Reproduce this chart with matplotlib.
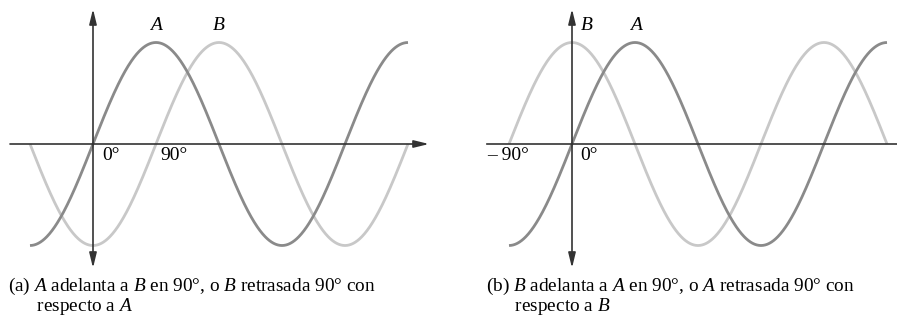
import numpy as np
import matplotlib
matplotlib.use('Agg')
import matplotlib.pyplot as plt

# phase angle samples (degrees) and the two waveforms of each panel
theta = np.linspace(-90, 450, 721)
wave_a_A = np.sin(np.radians(theta))
wave_a_B = np.sin(np.radians(theta - 90))   # B lags A by 90
wave_b_A = np.sin(np.radians(theta))
wave_b_B = np.sin(np.radians(theta + 90))   # B leads A by 90

color_A = '#8a8a8a'
color_B = '#c8c8c8'
axis_color = '#333333'

plt.rcParams['font.family'] = ['Liberation Serif', 'DejaVu Serif']
plt.rcParams['mathtext.fontset'] = 'custom'
plt.rcParams['mathtext.rm'] = 'Liberation Serif'
plt.rcParams['mathtext.it'] = 'Liberation Serif:italic'

W, H = 897, 320
fig = plt.figure(figsize=(W / 100, H / 100), dpi=100)

PX_PER_DEG = 0.7
PX_PER_UNIT = 101.5
AXIS_Y = 144


def make_axes(left, right, origin_x):
    ax = fig.add_axes([left / W, 0, (right - left) / W, 1])
    ax.set_xlim((left - origin_x) / PX_PER_DEG, (right - origin_x) / PX_PER_DEG)
    ax.set_ylim(-(H - AXIS_Y) / PX_PER_UNIT, AXIS_Y / PX_PER_UNIT)
    ax.axis('off')
    return ax


def px2x(px, origin_x):
    return (px - origin_x) / PX_PER_DEG


def py2y(py):
    return (AXIS_Y - py) / PX_PER_UNIT


def draw_axes(ax, origin_x, x_start, x_end, arrow=True):
    head = dict(arrowstyle='-|>,head_length=0.9,head_width=0.22', color=axis_color,
                lw=1.2, shrinkA=0, shrinkB=0)
    # horizontal axis
    if arrow:
        ax.annotate('', xy=(px2x(x_end, origin_x), 0), xytext=(px2x(x_start, origin_x), 0),
                    arrowprops=head)
    else:
        ax.plot([px2x(x_start, origin_x), px2x(x_end, origin_x)], [0, 0],
                color=axis_color, lw=1.2)
    # vertical axis, arrows at both ends
    ax.annotate('', xy=(0, py2y(9)), xytext=(0, 0), arrowprops=head)
    ax.annotate('', xy=(0, py2y(268)), xytext=(0, 0), arrowprops=head)


# ---- panel (a): A leads B ----
ax1 = make_axes(0, 450, 93)
ax1.plot(theta, wave_a_B, color=color_B, lw=2.0, solid_capstyle='butt')
ax1.plot(theta, wave_a_A, color=color_A, lw=2.0, solid_capstyle='butt')
draw_axes(ax1, 93, 10, 429)
ax1.text(90, py2y(25), 'A', style='italic', fontsize=14, ha='center', va='center')
ax1.text(180, py2y(25), 'B', style='italic', fontsize=14, ha='center', va='center')
ax1.text(px2x(102, 93), py2y(156), '0°', fontsize=14, ha='left', va='center')
ax1.text(px2x(160, 93), py2y(156), '90°', fontsize=14, ha='left', va='center')

# ---- panel (b): B leads A ----
ax2 = make_axes(450, 897, 572)
ax2.plot(theta, wave_b_B, color=color_B, lw=2.0, solid_capstyle='butt')
ax2.plot(theta, wave_b_A, color=color_A, lw=2.0, solid_capstyle='butt')
draw_axes(ax2, 572, 487, 897, arrow=False)
ax2.text(px2x(587, 572), py2y(25), 'B', style='italic', fontsize=14, ha='center', va='center')
ax2.text(px2x(636, 572), py2y(25), 'A', style='italic', fontsize=14, ha='center', va='center')
ax2.text(px2x(487, 572), py2y(156), '– 90°', fontsize=14, ha='left', va='center')
ax2.text(px2x(580, 572), py2y(156), '0°', fontsize=14, ha='left', va='center')

# captions (two lines, second one indented)
cap_kw = dict(fontsize=13.9, ha='left', va='top', linespacing=0.9,
              transform=fig.transFigure)
fig.text(8 / W, 1 - 276 / H,
         '(a) $\\mathit{A}$ adelanta a $\\mathit{B}$ en 90°, o $\\mathit{B}$ retrasada 90° con\n'
         '      respecto a $\\mathit{A}$',
         **cap_kw)
fig.text(486 / W, 1 - 276 / H,
         '(b) $\\mathit{B}$ adelanta a $\\mathit{A}$ en 90°, o $\\mathit{A}$ retrasada 90° con\n'
         '      respecto a $\\mathit{B}$',
         **cap_kw)

fig.savefig('out.png', dpi=100, facecolor='white')
plt.close()
